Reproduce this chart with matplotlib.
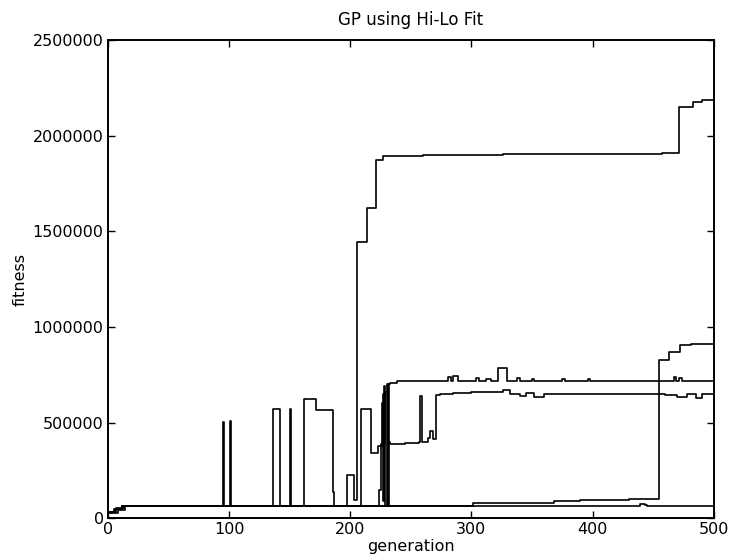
import matplotlib
matplotlib.use("Agg")
import matplotlib.pyplot as plt

run_a_gen = [0, 5, 12, 94, 95, 96, 197, 203, 206, 214, 221, 227, 260, 326, 457, 471, 483, 490, 500]
run_a_fit = [33000, 50000, 63000, 63000, 505000, 63000, 225000, 94000, 1445000, 1623000,
             1872000, 1897000, 1898000, 1905000, 1912000, 2151000, 2177000, 2185000, 2185000]

run_b_gen = [0, 6, 12, 100, 101, 102, 209, 217, 223, 226, 227, 228, 229, 230, 231, 232, 233,
             239, 281, 283, 285, 289, 292, 304, 306, 312, 316, 322, 329, 338, 340, 350, 352,
             375, 377, 396, 398, 467, 469, 471, 474, 477, 500]
run_b_fit = [30000, 48000, 63000, 63000, 510000, 63000, 570000, 340000, 380000, 600000, 90000,
             690000, 63000, 700000, 63000, 700000, 705000, 718000, 740000, 718000, 742000,
             718000, 720000, 735000, 718000, 730000, 720000, 785000, 720000, 732000, 720000,
             730000, 718000, 728000, 718000, 726000, 718000, 738000, 720000, 735000, 720000,
             718000, 718000]

run_c_gen = [0, 8, 14, 135, 136, 142, 149, 150, 151, 161, 162, 172, 185, 186, 187, 222, 224,
             225, 227, 228, 229, 231, 233, 245, 257, 258, 259, 264, 266, 268, 271, 274, 285,
             300, 320, 326, 332, 340, 345, 352, 360, 380, 420, 440, 460, 470, 478, 485, 490, 500]
run_c_fit = [28000, 45000, 63000, 63000, 570000, 63000, 63000, 570000, 63000, 63000, 622000,
             565000, 565000, 137000, 63000, 63000, 150000, 390000, 650000, 390000, 660000,
             400000, 387000, 393000, 400000, 638000, 400000, 420000, 455000, 415000, 643000,
             652000, 655000, 660000, 662000, 668000, 652000, 640000, 655000, 635000, 650000,
             648000, 652000, 650000, 645000, 632000, 650000, 628000, 648000, 650000]

run_d_gen = [0, 7, 13, 296, 301, 368, 390, 430, 455, 463, 472, 481, 500]
run_d_fit = [35000, 52000, 63000, 63000, 80000, 90000, 95000, 100000, 826000, 870000,
             905000, 910000, 910000]

run_e_gen = [0, 6, 12, 300, 437, 439, 443, 445, 500]
run_e_fit = [32000, 50000, 63000, 63000, 66000, 76000, 70000, 63000, 63000]

runs = [(run_a_gen, run_a_fit), (run_b_gen, run_b_fit), (run_c_gen, run_c_fit),
        (run_d_gen, run_d_fit), (run_e_gen, run_e_fit)]

plt.rcParams['font.size'] = 11.5
fig = plt.figure(figsize=(7.29, 5.59), dpi=100)
ax = fig.add_axes([0.148, 0.073, 0.831, 0.855])

for g, f in runs:
    ax.plot(g, f, color='black', linewidth=1.2, drawstyle='steps-post')

ax.set_xlim(0, 500)
ax.set_ylim(0, 2500000)
ax.set_xticks([0, 100, 200, 300, 400, 500])
ax.set_yticks([0, 500000, 1000000, 1500000, 2000000, 2500000])
ax.ticklabel_format(style='plain', axis='y')
ax.tick_params(direction='in', top=True, right=True, length=5, width=1, pad=3)
for s in ax.spines.values():
    s.set_linewidth(1.4)

ax.set_title('GP using Hi-Lo Fit', fontsize=12, pad=11)
ax.set_xlabel('generation', labelpad=1)
ax.set_ylabel('fitness', labelpad=4)

fig.savefig('out.png', dpi=100)
